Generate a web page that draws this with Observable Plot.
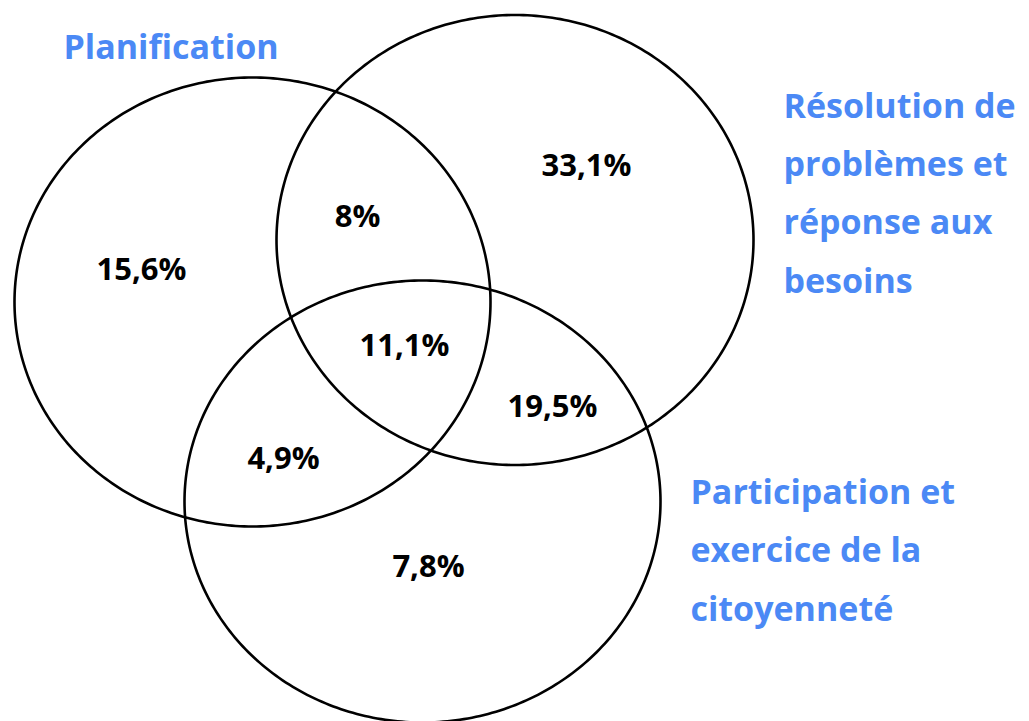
<!DOCTYPE html>
<html>
<head>
<meta charset="utf-8">
<script src="https://cdn.jsdelivr.net/npm/d3@7"></script>
<script src="https://cdn.jsdelivr.net/npm/@observablehq/plot@0.6"></script>
<style>
  html, body { margin: 0; padding: 0; background: #fff; }
  #chart { width: 1029px; height: 721px; }
</style>
</head>
<body>
<div id="chart"></div>
<script>
// Sets of the Venn diagram
const setNames = ["Planification", "Résolution de\nproblèmes et\nréponse aux\nbesoins", "Participation et\nexercice de la\ncitoyenneté"];
const setCx = [252, 514.5, 422];
const setCy = [301.5, 239.5, 501];
const setRx = [238, 238.5, 238];
const setRy = [224.5, 225, 221];
const setLabelX = [63, 783, 690];
const setLabelY = [40, 186, 543];

// Region values (%)
const regionValues = [15.6, 8, 33.1, 11.1, 19.5, 4.9, 7.8];
const regionX = [141, 357, 586, 404, 552, 283, 428];
const regionY = [270, 217, 166, 346, 407, 459, 567];

const fmt = v => String(v).replace(".", ",") + "%";

// Ellipse outlines built from each set's center and radii
const outline = [];
setNames.forEach((name, i) => {
  for (let k = 0; k < 360; k++) {
    const t = (k / 360) * 2 * Math.PI;
    outline.push({set: i, x: setCx[i] + setRx[i] * Math.cos(t), y: setCy[i] + setRy[i] * Math.sin(t)});
  }
});

const regions = regionValues.map((v, i) => ({v, x: regionX[i], y: regionY[i]}));
const labels = setNames.map((n, i) => ({n, x: setLabelX[i], y: setLabelY[i]}));

const chart = Plot.plot({
  width: 1029,
  height: 721,
  margin: 0,
  x: {domain: [0, 1029], axis: null},
  y: {domain: [0, 721], range: [0, 721], axis: null},
  style: {background: "#fff"},
  marks: [
    Plot.line(outline, {x: "x", y: "y", z: "set", curve: "linear-closed", stroke: "#000", strokeWidth: 2.6}),
    Plot.text(regions, {x: "x", y: "y", text: d => fmt(d.v), fontSize: 31, fontWeight: "bold", fill: "#000", fontFamily: "'Open Sans', sans-serif"}),
    Plot.text(labels, {x: "x", y: "y", text: "n", textAnchor: "start", lineHeight: 1.72, fontSize: 34, fontWeight: "bold", fill: "#4B89F5", fontFamily: "'Open Sans', sans-serif"})
  ]
});
document.getElementById("chart").appendChild(chart);
</script>
</body>
</html>
